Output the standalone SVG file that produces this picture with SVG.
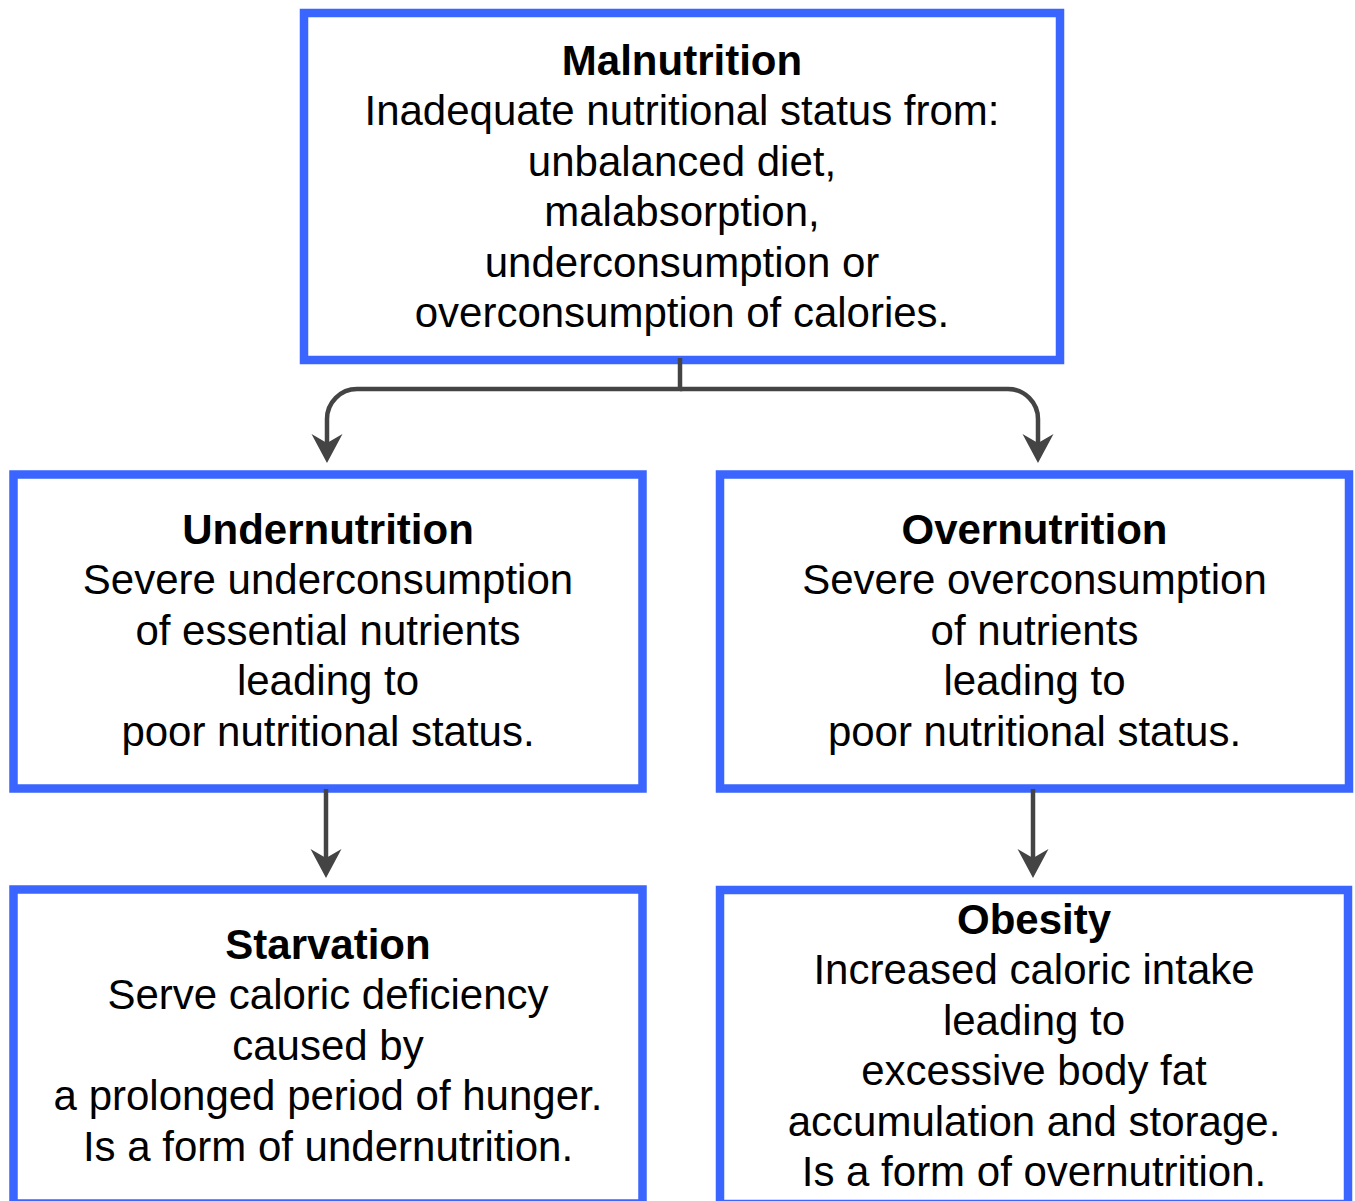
<svg xmlns="http://www.w3.org/2000/svg" width="1355" height="1201" viewBox="0 0 1355 1201">
  <style>
    .box { fill: #ffffff; stroke: #3a66ff; stroke-width: 8.5; }
    .t { font-family: "Liberation Sans", Arial, Helvetica, sans-serif; font-size: 42px; fill: #000000; text-anchor: middle; }
    .b { font-weight: bold; }
    .edge { fill: none; stroke: #444444; stroke-width: 4.5; }
  </style>
  <defs>
    <marker id="arrow" markerUnits="userSpaceOnUse" markerWidth="32" markerHeight="34" viewBox="0 0 32 34" refX="9" refY="17" orient="auto">
      <path d="M0,1.5 L29,17 L0,32.5 L9,17 Z" fill="#444444"/>
    </marker>
  </defs>
  <rect width="1355" height="1201" fill="#ffffff"/>

  <g id="node-malnutrition">
    <rect class="box" x="304" y="13" width="756" height="347"/>
    <text class="t b" x="682" y="75">Malnutrition</text>
    <text class="t" x="682" y="125.4">Inadequate nutritional status from:</text>
    <text class="t" x="682" y="175.8">unbalanced diet,</text>
    <text class="t" x="682" y="226.2">malabsorption,</text>
    <text class="t" x="682" y="276.6">underconsumption or</text>
    <text class="t" x="682" y="327">overconsumption of calories.</text>
  </g>

  <g id="node-undernutrition">
    <rect class="box" x="13.5" y="474.5" width="629" height="314"/>
    <text class="t b" x="328" y="544">Undernutrition</text>
    <text class="t" x="328" y="594.4">Severe underconsumption</text>
    <text class="t" x="328" y="644.8">of essential nutrients</text>
    <text class="t" x="328" y="695.2">leading to</text>
    <text class="t" x="328" y="745.6">poor nutritional status.</text>
  </g>

  <g id="node-overnutrition">
    <rect class="box" x="720" y="474.5" width="629" height="314"/>
    <text class="t b" x="1034.5" y="544">Overnutrition</text>
    <text class="t" x="1034.5" y="594.4">Severe overconsumption</text>
    <text class="t" x="1034.5" y="644.8">of nutrients</text>
    <text class="t" x="1034.5" y="695.2">leading to</text>
    <text class="t" x="1034.5" y="745.6">poor nutritional status.</text>
  </g>

  <g id="node-starvation">
    <rect class="box" x="13.5" y="889.5" width="629" height="314"/>
    <text class="t b" x="328" y="959">Starvation</text>
    <text class="t" x="328" y="1009.4">Serve caloric deficiency</text>
    <text class="t" x="328" y="1059.8">caused by</text>
    <text class="t" x="328" y="1110.2">a prolonged period of hunger.</text>
    <text class="t" x="328" y="1160.6">Is a form of undernutrition.</text>
  </g>

  <g id="node-obesity">
    <rect class="box" x="720" y="890" width="628" height="314"/>
    <text class="t b" x="1034" y="934">Obesity</text>
    <text class="t" x="1034" y="984.4">Increased caloric intake</text>
    <text class="t" x="1034" y="1034.8">leading to</text>
    <text class="t" x="1034" y="1085.2">excessive body fat</text>
    <text class="t" x="1034" y="1135.6">accumulation and storage.</text>
    <text class="t" x="1034" y="1186">Is a form of overnutrition.</text>
  </g>

  <g id="connectors">
    <path class="edge" d="M680,358 L680,389 L357,389 A30,30 0 0 0 327,419 L327,443" marker-end="url(#arrow)"/>
    <path class="edge" d="M680,389 L1008,389 A30,30 0 0 1 1038,419 L1038,443" marker-end="url(#arrow)"/>
    <path class="edge" d="M326,789 L326,858" marker-end="url(#arrow)"/>
    <path class="edge" d="M1033,789 L1033,858" marker-end="url(#arrow)"/>
  </g>
</svg>
